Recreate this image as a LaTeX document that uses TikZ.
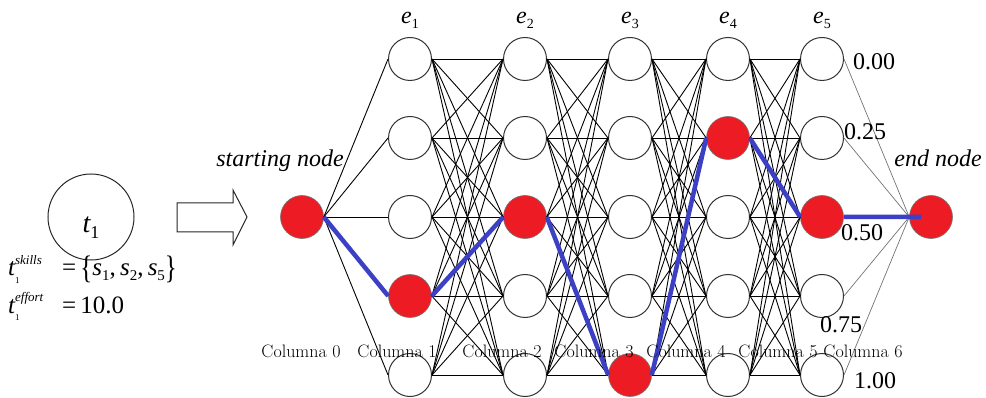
\documentclass[tikz,border=0pt]{standalone}
\usepackage{graphicx}
\usepackage{fontspec}
\newfontfamily\tm{Liberation Serif}
\definecolor{nodered}{RGB}{237,28,36}
\definecolor{pathblue}{RGB}{60,64,196}
% task symbol with stacked super- and subscript
\newcommand\tsym[2]{{\itshape t}\rlap{\raisebox{0.45em}{\fontsize{13}{13}\selectfont\itshape #1}}\raisebox{-0.3em}{\fontsize{9}{9}\selectfont #2}}
\newcommand\ssym[1]{{\itshape s}\raisebox{-0.2em}{\fontsize{15}{15}\selectfont #1}}
\newcommand\bigbrace[1]{\raisebox{-0.12em}{\scalebox{1}[1.3]{#1}}}

\begin{document}
\begin{tikzpicture}[x=1pt,y=-1pt,
  state/.style={circle,draw=black!80,line width=1pt,minimum size=43pt,inner sep=0pt,fill=white},
  chosen/.style={state,fill=nodered,draw=black!55,line width=0.6pt},
  link/.style={black,line width=0.9pt},
  tail/.style={black!55,line width=0.7pt},
  route/.style={pathblue,line width=4.5pt},
  lbl/.style={font=\tm\fontsize{24}{24}\selectfont,inner sep=0pt},
  collbl/.style={font=\fontsize{18}{18}\selectfont,inner sep=0pt,anchor=base}]
\useasboundingbox (0,0) rectangle (986,398);

% task on the left
\node[circle,draw=black!85,line width=1pt,minimum size=86pt,inner sep=0pt] (task) at (91,217) {};
\node[lbl,font=\tm\fontsize{28}{28}\selectfont,anchor=base] (tasklbl) at (91,233)
  {\itshape t\raisebox{-0.2em}{\fontsize{18}{18}\selectfont\upshape 1}};
\node[lbl,font=\tm\fontsize{25}{25}\selectfont,anchor=base west] (skills) at (8,276)
  {\makebox[54pt][l]{\tsym{skills}{1}}=\,\bigbrace{\{}\ssym{1},\,\ssym{2},\,\ssym{5}\bigbrace{\}}};
\node[lbl,font=\tm\fontsize{25}{25}\selectfont,anchor=base west] (effort) at (8,313)
  {\makebox[54pt][l]{\tsym{effort}{1}}=\,10.0};

% hollow arrow
\draw[black!85,line width=1pt] (177,203) -- (233,203) -- (233,190) -- (247,217)
  -- (233,245) -- (233,232) -- (177,232) -- cycle;

% start and end nodes
\node[chosen] (start) at (302,217) {};
\node[chosen] (fin) at (931,217) {};

% layered nodes: column / x / selected row
\foreach \c/\x/\pick in {1/410/4,2/525/3,3/630/5,4/728/2,5/822/3}{
  \foreach \r/\y in {1/59,2/138,3/217,4/296,5/375}{
    \ifnum\r=\pick\def\sty{chosen}\else\def\sty{state}\fi
    \node[\sty] (n\c\r) at (\x,\y) {};
  }
}

% connectors
\foreach \r in {1,...,5} \draw[link] (start.east) -- (n1\r.west);
\foreach \c in {1,...,4}{
  \pgfmathtruncatemacro\d{\c+1}
  \foreach \r in {1,...,5}
    \foreach \q in {1,...,5}
      \draw[link] (n\c\r.east) -- (n\d\q.west);
}
\foreach \r in {1,...,5} \draw[tail] (n5\r.east) -- (fin.west);

% selected route
\draw[route] (start.east) -- (n14.west) (n14.east) -- (n23.west)
  (n23.east) -- (n35.west) (n35.east) -- (n42.west)
  (n42.east) -- (n53.west) (n53.east) -- ([xshift=-10pt]fin.center);

% column headers
\foreach \c/\x in {1/410,2/525,3/630,4/728,5/822}
  \node[lbl,anchor=base] (e\c) at (\x,24) {\itshape e\raisebox{-0.2em}{\fontsize{14}{14}\selectfont\upshape\c}};

\node[lbl,anchor=base] (startlbl) at (280,167) {\itshape starting node};
\node[lbl,anchor=base] (endlbl) at (938,167) {\itshape end node};

% effort levels
\node[lbl] (v0) at (874,62) {0.00};
\node[lbl] (v1) at (865,132) {0.25};
\node[lbl] (v2) at (862,233) {0.50};
\node[lbl] (v3) at (841,325) {0.75};
\node[lbl] (v4) at (875,381) {1.00};

% column captions
\foreach \i/\x in {0/301,1/397,2/502,3/594,4/686,5/778,6/863}
  \node[collbl] (col\i) at (\x,357) {Columna \oldstylenums{\i}};
\end{tikzpicture}
\end{document}
